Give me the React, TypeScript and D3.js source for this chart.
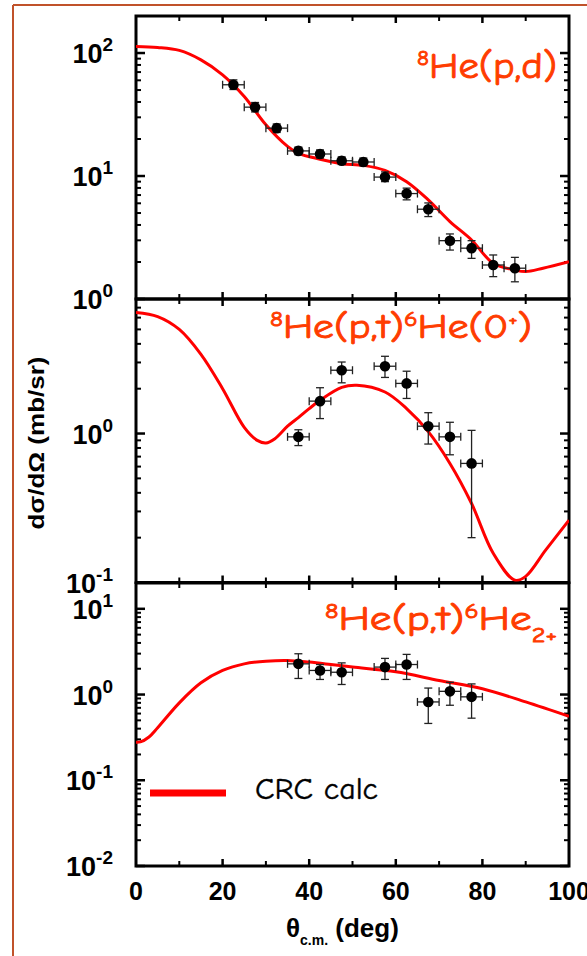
import React from "react";
import * as d3 from "d3";

// angle bins of the measured points (deg), half width of each bin
const BIN = 2.5;

// 8He(p,d) data
const pdAngles = [22.5, 27.5, 32.5, 37.5, 42.5, 47.5, 52.5, 57.5, 62.5, 67.5, 72.5, 77.5, 82.5, 87.5];
const pdValues = [55.2, 36.3, 24.5, 16.0, 15.1, 13.3, 13.0, 9.8, 7.2, 5.37, 2.98, 2.59, 1.89, 1.78];
const pdLow = [50.5, 33.2, 22.6, 14.9, 14.0, 12.4, 12.1, 9.0, 6.4, 4.68, 2.5, 2.14, 1.52, 1.38];
const pdHigh = [60.5, 39.6, 26.5, 17.2, 16.3, 14.3, 14.0, 10.8, 7.97, 6.04, 3.38, 2.98, 2.28, 2.18];
const pdCalcAngles = [0, 5, 10, 15, 20, 25, 30, 35, 37.5, 42.5, 47.5, 52.5, 57.5, 62.5, 67.5, 72.5, 77.5, 82.5, 87.5, 90, 94, 100];
const pdCalc = [113, 111, 105, 88, 66.5, 44.3, 26.1, 17.4, 15.3, 13.7, 12.6, 12.2, 11.1, 9.0, 6.4, 4.26, 3.02, 1.95, 1.72, 1.67, 1.78, 2.01];

// 8He(p,t)6He(0+) data
const gsAngles = [37.5, 42.5, 47.5, 57.5, 62.5, 67.5, 72.5, 77.5];
const gsValues = [0.95, 1.65, 2.66, 2.83, 2.17, 1.12, 0.95, 0.63];
const gsLow = [0.83, 1.26, 2.19, 2.38, 1.72, 0.85, 0.72, 0.2];
const gsHigh = [1.06, 2.03, 3.02, 3.3, 2.62, 1.38, 1.19, 1.05];
const gsCalcAngles = [0, 5, 10, 15, 20, 25, 28, 30, 32, 35, 37.5, 40, 42.5, 47.5, 51, 57.5, 62.5, 67.5, 72.5, 77.5, 82.5, 87.5, 90, 94.6, 100];
const gsCalc = [6.5, 6.1, 5.0, 3.4, 2.0, 1.1, 0.9, 0.865, 0.92, 1.12, 1.28, 1.47, 1.67, 2.04, 2.11, 1.9, 1.47, 1.03, 0.63, 0.339, 0.157, 0.1035, 0.11, 0.165, 0.262];

// 8He(p,t)6He(2+) data
const exAngles = [37.5, 42.5, 47.5, 57.5, 62.5, 67.5, 72.5, 77.5];
const exValues = [2.28, 1.91, 1.82, 2.09, 2.24, 0.82, 1.09, 0.94];
const exLow = [1.54, 1.5, 1.31, 1.5, 1.5, 0.46, 0.75, 0.53];
const exHigh = [2.99, 2.24, 2.34, 2.64, 2.94, 1.19, 1.39, 1.33];
const exCalcAngles = [0, 1, 3, 5, 10, 15, 20, 25, 30, 35, 40, 45, 50, 60, 70, 80, 90, 100];
const exCalc = [0.277, 0.28, 0.32, 0.41, 0.8, 1.37, 1.91, 2.28, 2.45, 2.5, 2.39, 2.24, 2.09, 1.84, 1.46, 1.17, 0.82, 0.557];

const xTicks = [0, 20, 40, 60, 80, 100];
const xMinor = [10, 30, 50, 70, 90];

const W = 587;
const H = 956;
const RED = "#ff0000";
const LABEL = "#ff3c00";
const SANS = "'Liberation Sans', Arial, sans-serif";
const COMIC = "'Comic Sans MS', 'Comic Neue', 'DejaVu Sans', sans-serif";

const x = d3.scaleLinear().domain([0, 100]).range([136, 569]);

const panels = [
  {
    key: "pd",
    y: d3.scaleLog().domain([1, 200]).range([299, 16]),
    angles: pdAngles, values: pdValues, low: pdLow, high: pdHigh,
    calcAngles: pdCalcAngles, calc: pdCalc,
  },
  {
    key: "gs",
    y: d3.scaleLog().domain([0.1, 8]).range([582.5, 299]),
    angles: gsAngles, values: gsValues, low: gsLow, high: gsHigh,
    calcAngles: gsCalcAngles, calc: gsCalc,
  },
  {
    key: "ex",
    y: d3.scaleLog().domain([0.01, 20]).range([866, 583]),
    angles: exAngles, values: exValues, low: exLow, high: exHigh,
    calcAngles: exCalcAngles, calc: exCalc,
  },
];

function Panel({ p }: { p: any }) {
  const [y0, y1] = p.y.range();
  const top = y1, bottom = y0;
  const left = x.range()[0], right = x.range()[1];
  const line = d3
    .line<number>()
    .x((d, i) => x(p.calcAngles[i]))
    .y((d) => p.y(d))
    .curve(d3.curveCatmullRom.alpha(0.5));
  const yt = p.y.ticks();
  const isMajor = (v: number) => Math.abs(Math.log10(v) - Math.round(Math.log10(v))) < 1e-6;
  return (
    <g>
      <clipPath id={"clip-" + p.key}>
        <rect x={left} y={top} width={right - left} height={bottom - top} />
      </clipPath>
      {/* x ticks top and bottom, inward */}
      {xTicks.slice(1, -1).map((t) => (
        <g key={"xt" + t} stroke="#000" strokeWidth={2.5}>
          <line x1={x(t)} x2={x(t)} y1={top} y2={top + 7} />
          <line x1={x(t)} x2={x(t)} y1={bottom} y2={bottom - 7} />
        </g>
      ))}
      {xMinor.map((t) => (
        <g key={"xm" + t} stroke="#000" strokeWidth={2}>
          <line x1={x(t)} x2={x(t)} y1={top} y2={top + 5} />
          <line x1={x(t)} x2={x(t)} y1={bottom} y2={bottom - 5} />
        </g>
      ))}
      {/* y ticks left and right, inward */}
      {yt.map((v: number) => {
        const len = isMajor(v) ? 9 : 5;
        const yy = p.y(v);
        return (
          <g key={"yt" + v} stroke="#000" strokeWidth={isMajor(v) ? 2.5 : 2}>
            <line x1={left} x2={left + len} y1={yy} y2={yy} />
            <line x1={right} x2={right - len} y1={yy} y2={yy} />
          </g>
        );
      })}
      {yt.filter(isMajor).map((v: number) => (
        <text key={"yl" + v} x={113} y={p.y(v) + 10} textAnchor="end" fontFamily={SANS} fontWeight="bold" fill="#000">
          <tspan fontSize={27}>10</tspan>
          <tspan fontSize={19} dy={-12}>{String(Math.round(Math.log10(v)))}</tspan>
        </text>
      ))}
      <rect x={left} y={top} width={right - left} height={bottom - top} fill="none" stroke="#000" strokeWidth={3} />
      <path d={line(p.calc) || ""} fill="none" stroke={RED} strokeWidth={3} clipPath={`url(#clip-${p.key})`} />
      {p.angles.map((a: number, i: number) => {
        const cx = x(a);
        const cy = p.y(p.values[i]);
        const yl = p.y(p.low[i]);
        const yh = p.y(p.high[i]);
        const xl = x(a - BIN);
        const xh = x(a + BIN);
        return (
          <g key={"pt" + i}>
            <g stroke="#222" strokeWidth={1.3}>
              <line x1={xl} x2={xh} y1={cy} y2={cy} />
              <line x1={xl} x2={xl} y1={cy - 4} y2={cy + 4} />
              <line x1={xh} x2={xh} y1={cy - 4} y2={cy + 4} />
              <line x1={cx} x2={cx} y1={yl} y2={yh} />
              <line x1={cx - 4} x2={cx + 4} y1={yl} y2={yl} />
              <line x1={cx - 4} x2={cx + 4} y1={yh} y2={yh} />
            </g>
            <circle cx={cx} cy={cy} r={5.3} fill="#000" />
          </g>
        );
      })}
    </g>
  );
}

export default function App() {
  return (
    <svg width={W} height={H} style={{ position: "absolute", left: 0, top: 0, display: "block", background: "#fff" }}>
      <rect x={0} y={0} width={W} height={H} fill="#fff" />
      {/* outer frame */}
      <line x1={13} x2={W} y1={5} y2={5} stroke="#c0522a" strokeWidth={2} />
      <line x1={13} x2={13} y1={5} y2={H} stroke="#c0522a" strokeWidth={2} />

      {panels.map((p) => (
        <Panel key={p.key} p={p} />
      ))}

      {/* panel labels */}
      <g fontFamily={COMIC} fill={LABEL} stroke={LABEL} strokeWidth={0.9}>
        <text x={417} y={78} textLength={140} lengthAdjust="spacingAndGlyphs" fontSize={37}>
          <tspan fontSize={21} dy={-13}>8</tspan>
          <tspan dy={13}>He(p,d)</tspan>
        </text>
        <text x={270} y={338} textLength={262} lengthAdjust="spacingAndGlyphs" fontSize={35}>
          <tspan fontSize={21} dy={-12}>8</tspan>
          <tspan dy={12}>He(p,t)</tspan>
          <tspan fontSize={21} dy={-12}>6</tspan>
          <tspan dy={12}>He(0</tspan>
          <tspan fontSize={17} dy={-13}>+</tspan>
          <tspan dy={13}>)</tspan>
        </text>
        <text x={325} y={630} textLength={232} lengthAdjust="spacingAndGlyphs" fontSize={35}>
          <tspan fontSize={21} dy={-12}>8</tspan>
          <tspan dy={12}>He(p,t)</tspan>
          <tspan fontSize={21} dy={-12}>6</tspan>
          <tspan dy={12}>He</tspan>
          <tspan fontSize={21} dy={12}>2+</tspan>
        </text>
      </g>

      {/* legend */}
      <line x1={150} x2={226} y1={793} y2={793} stroke={RED} strokeWidth={7} />
      <text x={255} y={799} textLength={123} lengthAdjust="spacingAndGlyphs" fontFamily={COMIC} fontSize={30} fill="#000" stroke="#000" strokeWidth={0.4}>
        CRC calc
      </text>

      {/* x tick labels */}
      {xTicks.map((t) => (
        <text key={"xl" + t} x={x(t)} y={900} textAnchor="middle" fontFamily={SANS} fontWeight="bold" fontSize={25} fill="#000">
          {t}
        </text>
      ))}

      {/* axis titles */}
      <text x={286} y={937} fontFamily={SANS} fontWeight="bold" fontSize={26} fill="#000">
        <tspan>θ</tspan>
        <tspan fontSize={14} dy={8}>c.m.</tspan>
        <tspan dy={-8}> (deg)</tspan>
      </text>
      <text
        transform="translate(44,443) rotate(-90)"
        textAnchor="middle"
        textLength={173}
        lengthAdjust="spacingAndGlyphs"
        fontFamily={SANS}
        fontWeight="bold"
        fontSize={22}
        fill="#000"
      >
        dσ/dΩ (mb/sr)
      </text>
    </svg>
  );
}
